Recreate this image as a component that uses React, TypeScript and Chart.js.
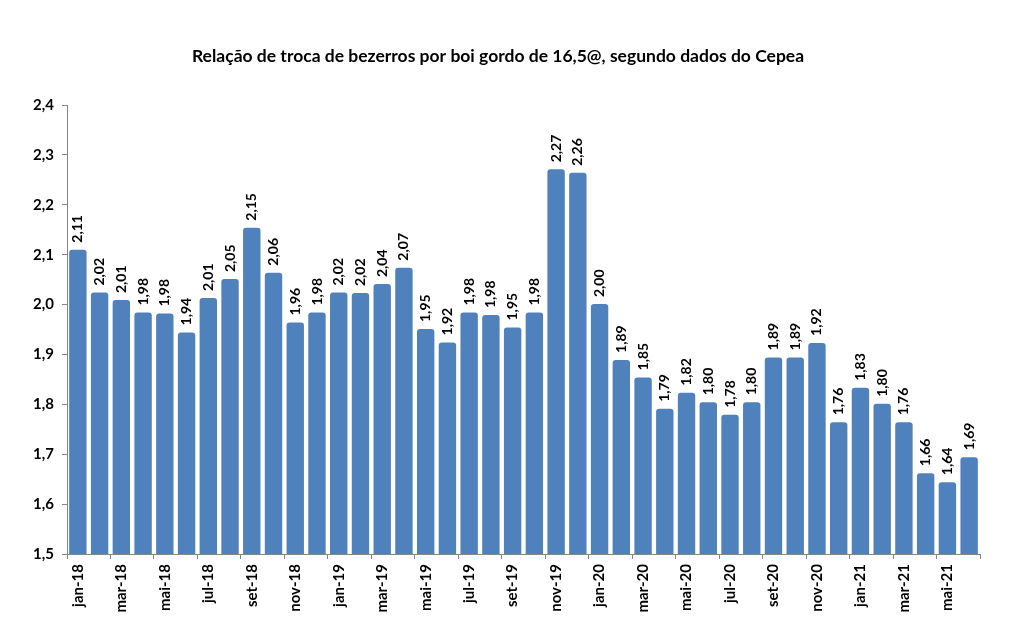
import React, { useEffect, useRef } from "react";
import { Chart, registerables } from "chart.js";

Chart.register(...registerables);

const titleText = "Relação de troca de bezerros por boi gordo de 16,5@, segundo dados do Cepea";

const months: string[] = [
  "jan-18", "fev-18", "mar-18", "abr-18", "mai-18", "jun-18", "jul-18", "ago-18", "set-18", "out-18", "nov-18", "dez-18",
  "jan-19", "fev-19", "mar-19", "abr-19", "mai-19", "jun-19", "jul-19", "ago-19", "set-19", "out-19", "nov-19", "dez-19",
  "jan-20", "fev-20", "mar-20", "abr-20", "mai-20", "jun-20", "jul-20", "ago-20", "set-20", "out-20", "nov-20", "dez-20",
  "jan-21", "fev-21", "mar-21", "abr-21", "mai-21", "jun-21",
];

const ratio: number[] = [
  2.110, 2.024, 2.009, 1.984, 1.982, 1.944, 2.013, 2.051, 2.154, 2.064, 1.964, 1.984,
  2.024, 2.023, 2.041, 2.074, 1.951, 1.924, 1.984, 1.979, 1.954, 1.984, 2.271, 2.264,
  2.001, 1.889, 1.854, 1.791, 1.823, 1.804, 1.779, 1.804, 1.894, 1.894, 1.923, 1.764,
  1.833, 1.801, 1.764, 1.662, 1.644, 1.694,
];

const yMin = 1.5;
const yMax = 2.4;
const yStep = 0.1;

const FONT = "Lato, 'Open Sans', sans-serif";
const AXIS_GREY = "#868686";

const fmt = (v: number, d: number) => v.toFixed(d).replace(".", ",");

const valueLabels = {
  id: "valueLabels",
  afterDatasetsDraw(chart: any) {
    const { ctx } = chart;
    const meta = chart.getDatasetMeta(0);
    const data = chart.data.datasets[0].data as number[];
    ctx.save();
    ctx.font = `bold 14px ${FONT}`;
    ctx.fillStyle = "#000000";
    ctx.textAlign = "left";
    ctx.textBaseline = "middle";
    meta.data.forEach((bar: any, i: number) => {
      ctx.save();
      ctx.translate(bar.x, bar.y - 7);
      ctx.rotate(-Math.PI / 2);
      ctx.fillText(fmt(data[i], 2), 0, 0);
      ctx.restore();
    });
    ctx.restore();
  },
};

export default function App() {
  const canvasRef = useRef<HTMLCanvasElement | null>(null);

  useEffect(() => {
    if (!canvasRef.current) return;
    const chart = new Chart(canvasRef.current, {
      type: "bar",
      data: {
        labels: months,
        datasets: [
          {
            data: ratio,
            backgroundColor: "#4F81BD",
            borderWidth: 0,
            borderRadius: { topLeft: 3, topRight: 3, bottomLeft: 0, bottomRight: 0 },
            borderSkipped: false,
            categoryPercentage: 1,
            barPercentage: 0.8,
          },
        ],
      },
      options: {
        animation: false,
        responsive: false,
        layout: { padding: { left: 16, right: 33, top: 0, bottom: 0 } },
        plugins: {
          legend: { display: false },
          tooltip: { enabled: false },
          title: {
            display: true,
            text: titleText,
            color: "#000000",
            font: { family: FONT, size: 17.5, weight: "bold", lineHeight: 1.2 },
            padding: { top: 46, bottom: 38 },
          },
        },
        scales: {
          x: {
            offset: true,
            grid: {
              offset: true,
              drawOnChartArea: false,
              drawTicks: true,
              tickLength: 5,
              color: (c: any) => (c.index === undefined || c.index % 2 === 0 ? AXIS_GREY : "rgba(0,0,0,0)"),
            },
            border: { color: AXIS_GREY, width: 1 },
            ticks: {
              autoSkip: false,
              maxRotation: 90,
              minRotation: 90,
              padding: 5,
              color: "#000000",
              font: { family: FONT, size: 15, weight: "bold" },
              callback: (_v: any, i: number) => (i % 2 === 0 ? months[i] : ""),
            },
            afterFit: (s: any) => {
              s.height = 78;
            },
          },
          y: {
            min: yMin,
            max: yMax,
            grid: {
              drawOnChartArea: false,
              drawTicks: true,
              tickLength: 5,
              color: AXIS_GREY,
            },
            border: { color: AXIS_GREY, width: 1 },
            ticks: {
              stepSize: yStep,
              padding: 8,
              color: "#000000",
              font: { family: FONT, size: 15, weight: "bold" },
              callback: (v: any) => fmt(Number(v), 1),
            },
            afterFit: (s: any) => {
              s.width = 51;
            },
          },
        },
      },
      plugins: [valueLabels],
    });
    return () => chart.destroy();
  }, []);

  return (
    <div style={{ position: "absolute", left: 0, top: 0, width: 1013, height: 632, background: "#ffffff" }}>
      <canvas ref={canvasRef} width={1013} height={632} />
    </div>
  );
}
